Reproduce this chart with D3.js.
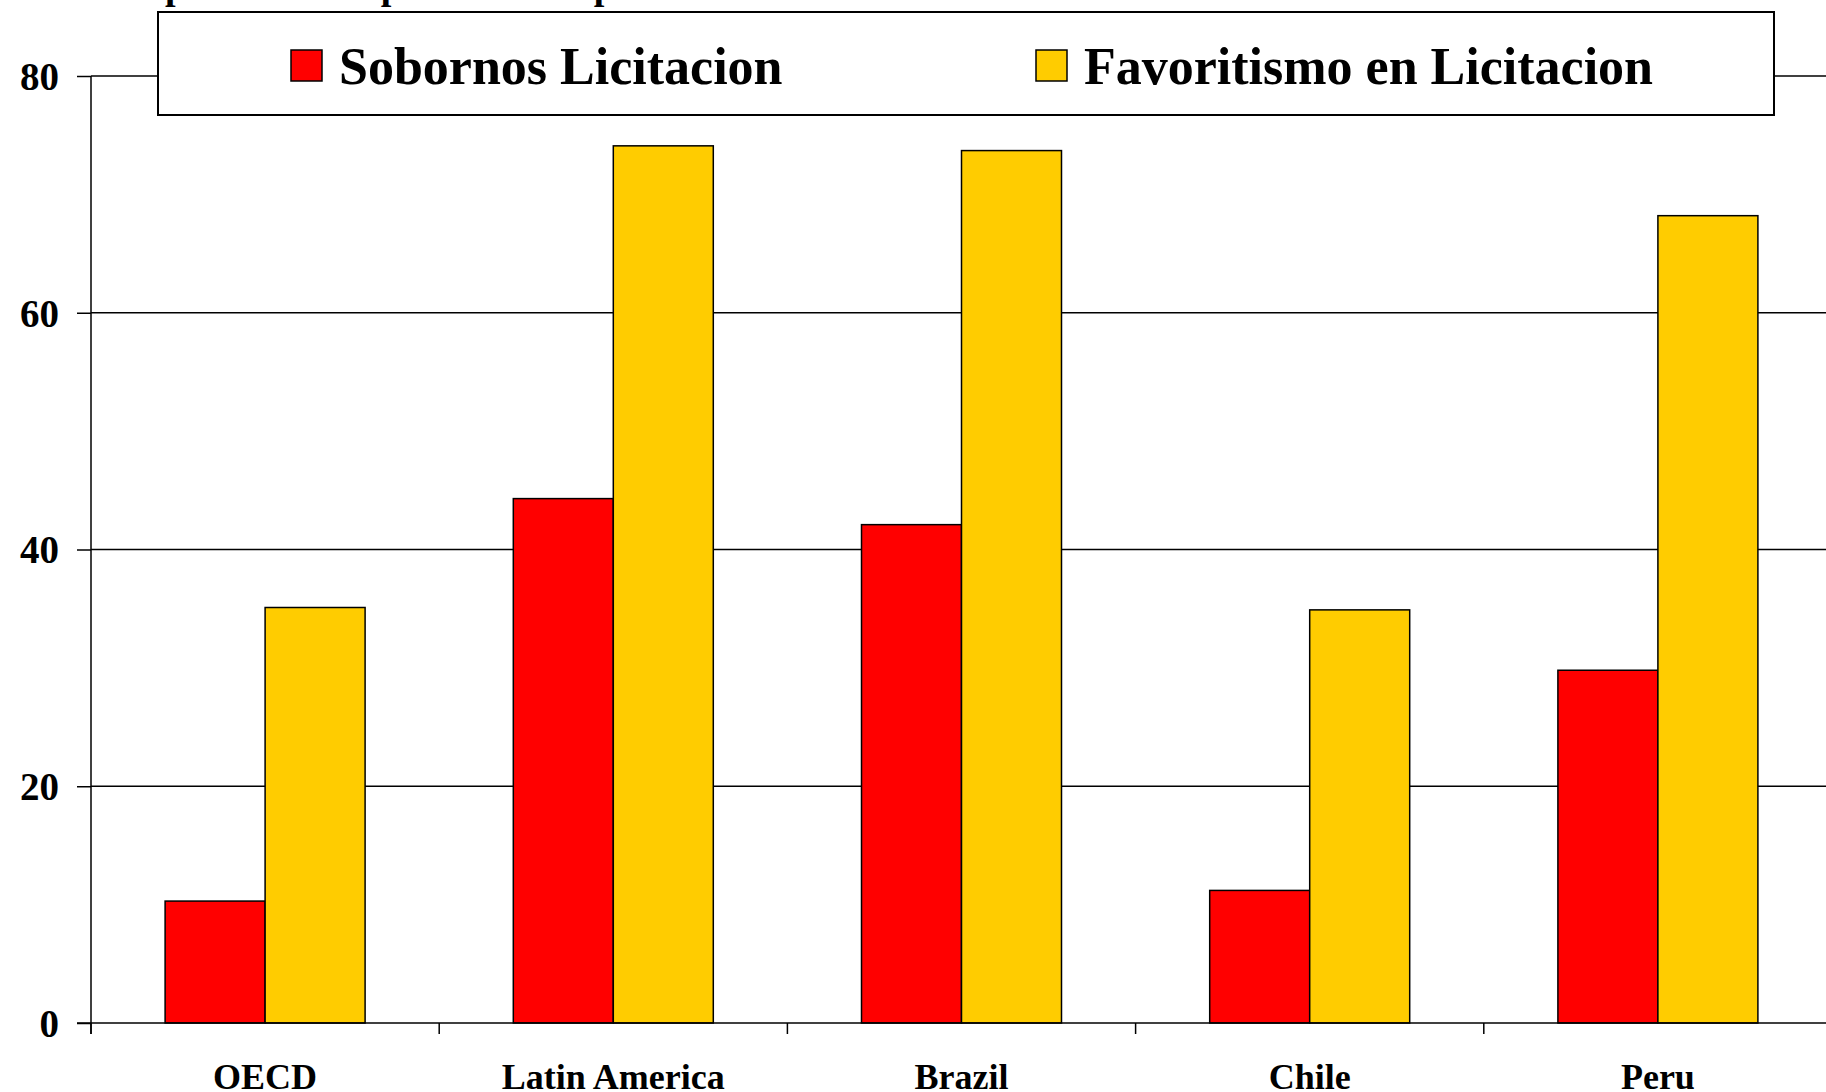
<!DOCTYPE html>
<html>
<head>
<meta charset="utf-8">
<script src="https://cdn.jsdelivr.net/npm/d3@7"></script>
<style>
  html, body { margin: 0; padding: 0; background: #fff; overflow: hidden; }
  svg { display: block; font-family: "Liberation Serif", "Times New Roman", serif; font-weight: bold; }
</style>
</head>
<body>
<div id="chart"></div>
<script>
const categories = ["OECD", "Latin America", "Brazil", "Chile", "Peru"];
const seriesNames = ["Sobornos Licitacion", "Favoritismo en Licitacion"];
const sobornos = [10.3, 44.3, 42.1, 11.2, 29.8];
const favoritismo = [35.1, 74.1, 73.7, 34.9, 68.2];
const yTicks = [0, 20, 40, 60, 80];
const titleText = "Empresas: corrupción en compras";

const colors = ["#ff0000", "#ffcc00"];

const width = 1826;
const height = 1092;
const plot = { left: 91, top: 76, bottom: 1023, step: 348.2 };

const svg = d3.select("#chart").append("svg")
  .attr("width", width)
  .attr("height", height);

// Title sits above the page, only its descenders show
svg.append("text")
  .attr("x", 108)
  .attr("y", -1.5)
  .attr("font-size", 38)
  .text(titleText);

const rows = categories.map((c, i) => ({
  category: c,
  values: [sobornos[i], favoritismo[i]]
}));

const x0 = d3.scaleBand()
  .domain(categories)
  .range([plot.left, plot.left + plot.step * categories.length])
  .padding(0);

const x1 = d3.scaleBand()
  .domain(d3.range(seriesNames.length))
  .range([0, x0.bandwidth()])
  .paddingInner(0)
  .paddingOuter(0.741);

const y = d3.scaleLinear()
  .domain([0, 80])
  .range([plot.bottom, plot.top]);

// Gridlines
svg.append("g")
  .selectAll("line")
  .data(yTicks.filter(t => t > 0))
  .join("line")
  .attr("x1", plot.left)
  .attr("x2", width)
  .attr("y1", d => y(d))
  .attr("y2", d => y(d))
  .attr("stroke", "#000")
  .attr("stroke-width", 1.5);

// Y axis
const yAxis = svg.append("g")
  .attr("transform", `translate(${plot.left},0)`)
  .call(d3.axisLeft(y).tickValues(yTicks).tickSize(14).tickPadding(18));
yAxis.select(".domain").remove();
yAxis.append("line")
  .attr("y1", plot.top)
  .attr("y2", plot.bottom + 11)
  .attr("stroke", "#000")
  .attr("stroke-width", 1.5);
yAxis.selectAll(".tick line").attr("stroke", "#000").attr("stroke-width", 1.5);
yAxis.selectAll(".tick text")
  .attr("fill", "#000")
  .attr("font-size", 39)
  .attr("font-family", "Liberation Serif, serif")
  .attr("font-weight", "bold")
  .attr("dy", "0.34em");

// Bars
const groups = svg.append("g")
  .selectAll("g")
  .data(rows)
  .join("g")
  .attr("transform", d => `translate(${x0(d.category)},0)`);

groups.selectAll("rect")
  .data(d => d.values.map((v, i) => ({ v, i })))
  .join("rect")
  .attr("x", d => x1(d.i))
  .attr("width", x1.bandwidth())
  .attr("y", d => y(d.v))
  .attr("height", d => y(0) - y(d.v))
  .attr("fill", d => colors[d.i])
  .attr("stroke", "#000")
  .attr("stroke-width", 1.5);

// X axis
svg.append("line")
  .attr("x1", plot.left - 14)
  .attr("x2", width)
  .attr("y1", y(0))
  .attr("y2", y(0))
  .attr("stroke", "#000")
  .attr("stroke-width", 1.5);

svg.append("g")
  .selectAll("line")
  .data(d3.range(categories.length + 1))
  .join("line")
  .attr("x1", i => plot.left + i * x0.step())
  .attr("x2", i => plot.left + i * x0.step())
  .attr("y1", y(0))
  .attr("y2", y(0) + 11)
  .attr("stroke", "#000")
  .attr("stroke-width", 1.5);

svg.append("g")
  .selectAll("text")
  .data(categories)
  .join("text")
  .attr("x", d => x0(d) + x0.bandwidth() / 2)
  .attr("y", 1089)
  .attr("text-anchor", "middle")
  .attr("font-size", 36)
  .text(d => d);

// Legend
const legend = svg.append("g");
legend.append("rect")
  .attr("x", 158)
  .attr("y", 12)
  .attr("width", 1616)
  .attr("height", 103)
  .attr("fill", "#fff")
  .attr("stroke", "#000")
  .attr("stroke-width", 2);

const legendX = [291, 1036];
const items = legend.selectAll("g.item")
  .data(seriesNames)
  .join("g")
  .attr("class", "item")
  .attr("transform", (d, i) => `translate(${legendX[i]},0)`);

items.append("rect")
  .attr("x", 0)
  .attr("y", 50)
  .attr("width", 31)
  .attr("height", 31)
  .attr("fill", (d, i) => colors[i])
  .attr("stroke", "#000")
  .attr("stroke-width", 1.5);

items.append("text")
  .attr("x", 48)
  .attr("y", 84)
  .attr("font-size", 52)
  .text(d => d);
</script>
</body>
</html>
